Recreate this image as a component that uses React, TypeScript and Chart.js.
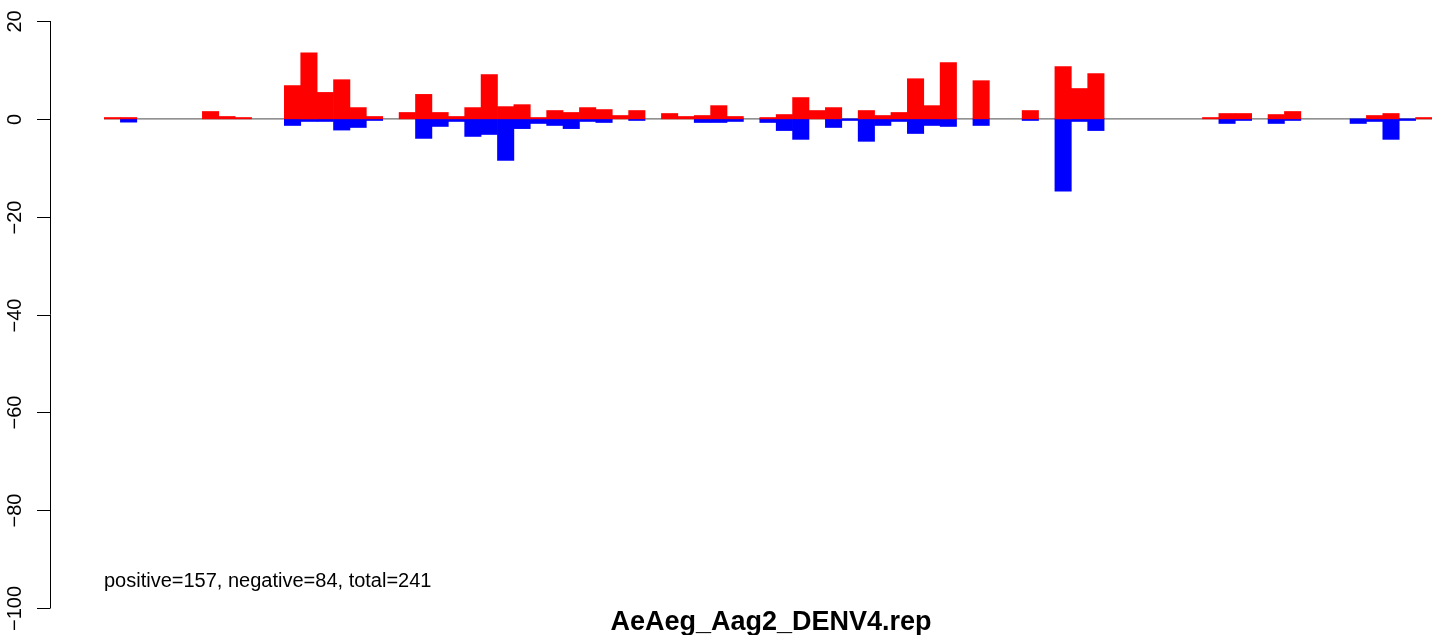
import React, { useEffect, useRef } from "react";
import { Chart, registerables } from "chart.js";

Chart.register(...registerables);

const binLabels: string[] = [
  "1","2","3","4","5","6","7","8","9","10","11","12","13","14","15","16","17","18","19","20",
  "21","22","23","24","25","26","27","28","29","30","31","32","33","34","35","36","37","38","39","40",
  "41","42","43","44","45","46","47","48","49","50","51","52","53","54","55","56","57","58","59","60",
  "61","62","63","64","65","66","67","68","69","70","71","72","73","74","75","76","77","78","79","80","81",
];

const positiveValues: number[] = [
  0.27, 0.27, 0, 0, 0, 0, 1.5, 0.48, 0.27, 0,
  0, 6.8, 13.5, 5.4, 8.0, 2.3, 0.48, 0, 1.3, 5.0,
  1.3, 0.48, 2.3, 9.05, 2.5, 2.9, 0.27, 1.7, 1.3, 2.3,
  1.9, 0.68, 1.7, 0, 1.09, 0.48, 0.68, 2.7, 0.48, 0,
  0.27, 0.88, 4.35, 1.7, 2.3, 0, 1.7, 0.68, 1.3, 8.2,
  2.7, 11.5, 0, 7.8, 0, 0, 1.7, 0, 10.7, 6.2,
  9.25, 0, 0, 0, 0, 0, 0, 0.27, 1.09, 1.09,
  0, 0.88, 1.5, 0, 0, 0, 0, 0.68, 1.09, 0,
  0.27,
];

const negativeValues: number[] = [
  0, -0.68, 0, 0, 0, 0, 0, 0, 0, 0,
  0, -1.36, -0.54, -0.54, -2.3, -1.77, -0.34, 0, 0, -4.0,
  -1.56, -0.54, -3.6, -3.2, -8.5, -2.0, -0.95, -1.36, -2.0, -0.54,
  -0.75, 0, -0.34, 0, 0, 0, -0.75, -0.75, -0.54, 0,
  -0.75, -2.4, -4.2, 0, -1.77, -0.34, -4.6, -1.36, -0.54, -3.0,
  -1.36, -1.56, 0, -1.36, 0, 0, -0.34, 0, -14.8, -0.54,
  -2.4, 0, 0, 0, 0, 0, 0, 0, -0.95, -0.34,
  0, -0.95, -0.34, 0, 0, 0, -0.95, -0.54, -4.2, -0.34,
  0,
];

const yTickValues: number[] = [20, 0, -20, -40, -60, -80, -100];
const yTickLabels: string[] = ["20", "0", "\u221220", "\u221240", "\u221260", "\u221280", "\u2212100"];

const summaryText = "positive=157, negative=84, total=241";
const titleText = "AeAeg_Aag2_DENV4.rep";

const FONT = '"Liberation Sans", Arial, Helvetica, sans-serif';

export default function App() {
  const canvasRef = useRef<HTMLCanvasElement | null>(null);

  useEffect(() => {
    document.body.style.margin = "0";
    const canvas = canvasRef.current;
    if (!canvas) return;

    const rPlugin = {
      id: "rStyle",
      beforeDatasetsDraw(chart: any) {
        const ctx = chart.ctx;
        const y = chart.scales.y;
        const area = chart.chartArea;
        const y0 = y.getPixelForValue(0);
        ctx.save();
        ctx.strokeStyle = "#6e6e6e";
        ctx.lineWidth = 1.3;
        ctx.beginPath();
        ctx.moveTo(area.left, y0);
        ctx.lineTo(area.right, y0);
        ctx.stroke();
        ctx.restore();
      },
      afterDraw(chart: any) {
        const ctx = chart.ctx;
        const y = chart.scales.y;
        const axisX = 50.5;
        ctx.save();
        ctx.strokeStyle = "#000";
        ctx.lineWidth = 1;
        const top = y.getPixelForValue(yTickValues[0]);
        const bottom = y.getPixelForValue(yTickValues[yTickValues.length - 1]);
        ctx.beginPath();
        ctx.moveTo(axisX, top);
        ctx.lineTo(axisX, bottom);
        ctx.stroke();
        ctx.fillStyle = "#000";
        ctx.font = `20px ${FONT}`;
        ctx.textAlign = "center";
        ctx.textBaseline = "alphabetic";
        yTickValues.forEach((v, i) => {
          const py = Math.round(y.getPixelForValue(v)) + 0.5;
          ctx.beginPath();
          ctx.moveTo(37, py);
          ctx.lineTo(axisX, py);
          ctx.stroke();
          ctx.save();
          ctx.translate(20.5, py);
          ctx.rotate(-Math.PI / 2);
          ctx.fillText(yTickLabels[i], 0, 0);
          ctx.restore();
        });
        ctx.textAlign = "left";
        ctx.font = `20px ${FONT}`;
        ctx.fillText(summaryText, 104, 587);
        ctx.textAlign = "center";
        ctx.font = `bold 27px ${FONT}`;
        ctx.fillText(titleText, 771, 630);
        ctx.restore();
      },
    };

    const toBars = (arr: number[]) => arr.map((v) => (v === 0 ? null : v));

    const chart = new Chart(canvas, {
      type: "bar",
      data: {
        labels: binLabels,
        datasets: [
          {
            label: "positive",
            data: toBars(positiveValues),
            backgroundColor: "#ff0000",
            borderWidth: 0,
            barPercentage: 1,
            categoryPercentage: 1,
          },
          {
            label: "negative",
            data: toBars(negativeValues),
            backgroundColor: "#0000ff",
            borderWidth: 0,
            barPercentage: 1,
            categoryPercentage: 1,
          },
        ],
      },
      options: {
        animation: false,
        responsive: false,
        devicePixelRatio: 1,
        layout: { padding: { left: 104, right: 9, top: 21, bottom: 27 } },
        plugins: { legend: { display: false }, tooltip: { enabled: false } },
        scales: {
          x: { display: false, stacked: true, grid: { display: false } },
          y: { display: false, stacked: true, min: -100, max: 20, grid: { display: false } },
        },
      },
      plugins: [rPlugin],
    });

    return () => chart.destroy();
  }, []);

  return (
    <canvas
      ref={canvasRef}
      width={1441}
      height={635}
      style={{ position: "fixed", left: 0, top: 0, width: 1441, height: 635, display: "block", background: "#fff" }}
    />
  );
}
